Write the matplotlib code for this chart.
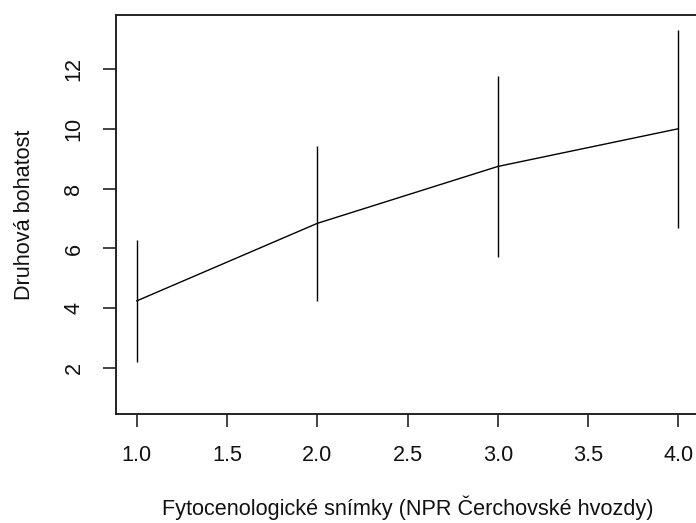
import matplotlib.pyplot as plt
import numpy as np

plt.rcParams['font.family'] = ['Liberation Sans', 'DejaVu Sans']

# species accumulation (mean richness +- sd)
sites = [1, 2, 3, 4]
richness = [4.25, 6.84, 8.74, 10.0]
sd = [2.03, 2.58, 3.02, 3.31]

W, H = 696, 523
fig = plt.figure(figsize=(W / 100, H / 100), dpi=100)
# plot box extends past the right edge of the picture
ax = fig.add_axes([115.7 / W, (H - 414) / H, (700 - 115.7) / W, (414 - 14.7) / H])

x = np.array(sites)
y = np.array(richness)
s = np.array(sd)
ax.plot(x, y, color='black', lw=1.0)
ax.vlines(x, y - s, y + s, color='black', lw=1.0)

ax.set_xlim(0.883, 4.12)
ax.set_ylim(0.47, 13.81)
ax.set_xticks([1.0, 1.5, 2.0, 2.5, 3.0, 3.5, 4.0])
ax.set_xticklabels(['1.0', '1.5', '2.0', '2.5', '3.0', '3.5', '4.0'])
ax.set_yticks([2, 4, 6, 8, 10, 12])

for sp in ax.spines.values():
    sp.set_linewidth(1.4)
    sp.set_color('#222222')
ax.tick_params(direction='out', length=9.5, width=1.2, color='#222222',
               labelsize=15.6, labelcolor='#111111', pad=13)
ax.tick_params(axis='y', labelrotation=90)
for lab in ax.get_yticklabels():
    lab.set_va('center')

fig.text(407.9 / W, 1 - 508 / H, 'Fytocenologické snímky (NPR Čerchovské hvozdy)',
         ha='center', va='center', fontsize=15.6, color='#111111')
fig.text(25 / W, 1 - 214.4 / H, 'Druhová bohatost', rotation=90,
         ha='center', va='center', fontsize=15.6, color='#111111')

fig.savefig('out.png', dpi=100)
